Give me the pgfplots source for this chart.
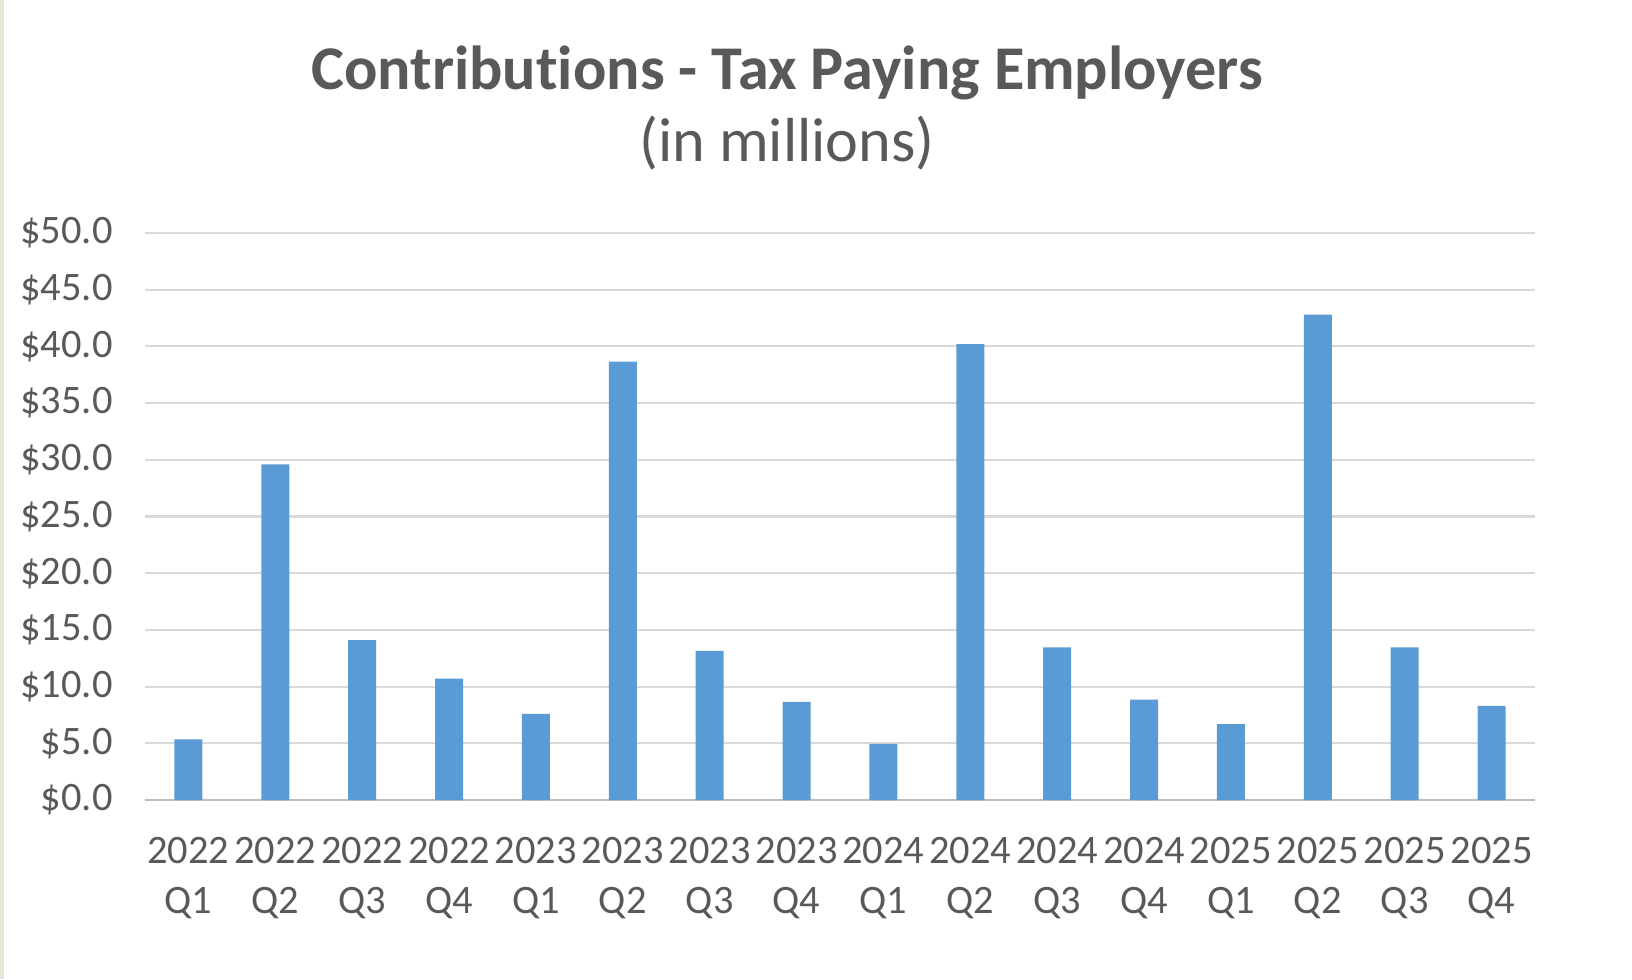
\documentclass[border=0pt]{standalone}
\usepackage{pgfplots}
\pgfplotsset{compat=1.18}
\usepackage{fontspec}
\setmainfont{Carlito}[Ligatures={NoCommon,NoRequired,NoContextual}]
\definecolor{barblue}{HTML}{5B9BD5}
\definecolor{txtgray}{HTML}{595959}
\definecolor{gridgray}{HTML}{D9D9D9}
\definecolor{basegray}{HTML}{BFBFBF}
\definecolor{edgegreen}{HTML}{E3E8D6}

\begin{document}
\begin{tikzpicture}
\begin{axis}[
    at={(0,0)}, anchor=south west,
    scale only axis, width=13.9cm, height=5.67cm,
    xmin=-0.5, xmax=15.5, ymin=0, ymax=50,
    axis line style={draw=none},
    ybar, bar width=0.28cm,
    xtick={0,...,15},
    xticklabels={2022\\Q1,2022\\Q2,2022\\Q3,2022\\Q4,2023\\Q1,2023\\Q2,2023\\Q3,2023\\Q4,
                 2024\\Q1,2024\\Q2,2024\\Q3,2024\\Q4,2025\\Q1,2025\\Q2,2025\\Q3,2025\\Q4},
    xticklabel style={align=center, font=\fontsize{11.5}{14.2}\selectfont, text=txtgray, yshift=-0.25cm},
    ytick={0,5,...,50},
    yticklabel={\$\pgfmathprintnumber[fixed,fixed zerofill,precision=1]{\tick}},
    yticklabel style={font=\fontsize{11.5}{14}\selectfont, text=txtgray, xshift=-0.2cm},
    /pgf/number format/assume math mode=true,
    major tick length=0pt,
    ymajorgrids, grid style={gridgray, line width=0.6pt},
    clip=false,
]
\draw[basegray, line width=0.8pt] (axis cs:-0.5,0) -- (axis cs:15.5,0);
\addplot[fill=barblue, draw=none] coordinates {
    (0,5.35) (1,29.6) (2,14.1) (3,10.7) (4,7.6) (5,38.65) (6,13.15) (7,8.65)
    (8,4.95) (9,40.2) (10,13.45) (11,8.85) (12,6.7) (13,42.8) (14,13.45) (15,8.3)
};
\end{axis}
\node[anchor=base, text=txtgray, font=\fontsize{17.7}{20}\selectfont\bfseries] at (6.42cm,7.1cm) {Contributions - Tax Paying Employers};
\node[anchor=base, text=txtgray, font=\fontsize{17.7}{20}\selectfont] at (6.42cm,6.38cm) {(in millions)};
\draw[edgegreen, line width=1.2pt] (-1.43cm,-1.79cm) -- (-1.43cm,8.0cm);
\pgfresetboundingbox
\useasboundingbox (-1.45cm,-1.79cm) rectangle (14.87cm,8.0cm);
\end{tikzpicture}
\end{document}
